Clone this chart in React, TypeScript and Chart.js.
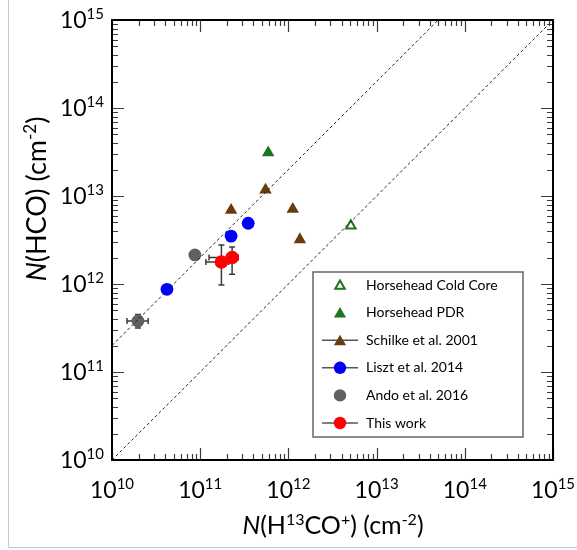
import React, { useEffect, useRef } from "react";
import { Chart, registerables } from "chart.js";
Chart.register(...registerables);

// ---- data ----
const coldCoreX = [5.1e12];
const coldCoreY = [4.6e12];
const pdrX = [5.9e11];
const pdrY = [3.1e13];
const schilkeX = [5.5e11, 2.24e11, 1.12e12, 1.35e12];
const schilkeY = [1.17e13, 6.9e12, 7.1e12, 3.2e12];
const lisztX = [3.5e11, 2.24e11, 4.2e10];
const lisztY = [4.9e12, 3.5e12, 8.7e11];
const andoX = [8.7e10, 1.97e10];
const andoY = [2.14e12, 3.8e11];
const andoXLo = [null, 1.48e10];
const andoXHi = [null, 2.57e10];
const andoYLo = [null, 3.16e11];
const andoYHi = [null, 4.5e11];
const thisX = [1.74e11, 2.3e11];
const thisY = [1.78e12, 2.0e12];
const thisXLo = [1.16e11, 1.26e11];
const thisXHi = [2.1e11, 2.7e11];
const thisYLo = [9.75e11, 1.29e12];
const thisYHi = [2.77e12, 2.63e12];
const unityX = [1e10, 1e15];
const unityY = [1e10, 1e15];
const ratioX = [1e10, 5e13];
const ratioY = [2e11, 1e15];
const decadeExps = [10, 11, 12, 13, 14, 15];
const minorMult = [2, 3, 4, 5, 6, 7, 8, 9];
const legendLabels = [
  "Horsehead Cold Core",
  "Horsehead PDR",
  "Schilke et al. 2001",
  "Liszt et al. 2014",
  "Ando et al. 2016",
  "This work",
];

const GREEN = "#1b771d";
const BROWN = "#6a3b0e";
const BLUE = "#0000ff";
const GRAY = "#606060";
const RED = "#ff0000";
const FONT = "Lato";

const pts = (xs: number[], ys: number[]) => xs.map((x, i) => ({ x, y: ys[i] }));

type Seg = { t: string; it?: boolean; sup?: boolean };

function segsWidth(ctx: CanvasRenderingContext2D, segs: Seg[], size: number, sup: number) {
  let w = 0;
  for (const s of segs) {
    ctx.font = `${s.it ? "italic " : ""}${s.sup ? sup : size}px ${FONT}`;
    w += ctx.measureText(s.t).width;
  }
  return w;
}
function drawSegs(ctx: CanvasRenderingContext2D, segs: Seg[], x: number, y: number, size: number, sup: number, raise: number) {
  ctx.textAlign = "left";
  ctx.textBaseline = "alphabetic";
  for (const s of segs) {
    ctx.font = `${s.it ? "italic " : ""}${s.sup ? sup : size}px ${FONT}`;
    ctx.fillText(s.t, x, s.sup ? y - raise : y);
    x += ctx.measureText(s.t).width;
  }
}

function triPath(ctx: CanvasRenderingContext2D, x: number, y: number, r: number) {
  ctx.beginPath();
  ctx.moveTo(x, y - r);
  ctx.lineTo(x + 0.866 * r, y + 0.5 * r);
  ctx.lineTo(x - 0.866 * r, y + 0.5 * r);
  ctx.closePath();
}

function errBars(ctx: CanvasRenderingContext2D, chart: any, xs: number[], ys: number[], xlo: any[], xhi: any[], ylo: any[], yhi: any[]) {
  const sx = chart.scales.x, sy = chart.scales.y;
  ctx.save();
  ctx.strokeStyle = "#3a3a3a";
  ctx.lineWidth = 1.5;
  const cap = 3;
  xs.forEach((xv, i) => {
    const px = sx.getPixelForValue(xv), py = sy.getPixelForValue(ys[i]);
    if (xlo[i] != null) {
      const a = sx.getPixelForValue(xlo[i]), b = sx.getPixelForValue(xhi[i]);
      ctx.beginPath();
      ctx.moveTo(a, py); ctx.lineTo(b, py);
      ctx.moveTo(a, py - cap); ctx.lineTo(a, py + cap);
      ctx.moveTo(b, py - cap); ctx.lineTo(b, py + cap);
      ctx.stroke();
    }
    if (ylo[i] != null) {
      const a = sy.getPixelForValue(ylo[i]), b = sy.getPixelForValue(yhi[i]);
      ctx.beginPath();
      ctx.moveTo(px, a); ctx.lineTo(px, b);
      ctx.moveTo(px - cap, a); ctx.lineTo(px + cap, a);
      ctx.moveTo(px - cap, b); ctx.lineTo(px + cap, b);
      ctx.stroke();
    }
  });
  ctx.restore();
}

const decorPlugin = {
  id: "decor",
  beforeDatasetDraw(chart: any, args: any) {
    const ctx = chart.ctx;
    if (args.index === 6) errBars(ctx, chart, andoX, andoY, andoXLo, andoXHi, andoYLo, andoYHi);
    if (args.index === 7) errBars(ctx, chart, thisX, thisY, thisXLo, thisXHi, thisYLo, thisYHi);
  },
  afterDraw(chart: any) {
    const ctx: CanvasRenderingContext2D = chart.ctx;
    const ca = chart.chartArea;
    const sx = chart.scales.x, sy = chart.scales.y;
    ctx.save();
    // outer light frame
    ctx.strokeStyle = "#c8c8c8";
    ctx.lineWidth = 1;
    ctx.beginPath();
    ctx.moveTo(8.5, 0); ctx.lineTo(8.5, 547.5); ctx.lineTo(577, 547.5);
    ctx.stroke();

    // ticks
    ctx.strokeStyle = "#3c3c3c";
    ctx.lineWidth = 1.2;
    ctx.beginPath();
    const tickAt = (v: number, len: number) => {
      const px = Math.round(sx.getPixelForValue(v)) + 0.5;
      const py = Math.round(sy.getPixelForValue(v)) + 0.5;
      ctx.moveTo(px, ca.bottom); ctx.lineTo(px, ca.bottom - len);
      ctx.moveTo(px, ca.top); ctx.lineTo(px, ca.top + len);
      ctx.moveTo(ca.left, py); ctx.lineTo(ca.left + len, py);
      ctx.moveTo(ca.right, py); ctx.lineTo(ca.right - len, py);
    };
    decadeExps.forEach((e) => {
      tickAt(Math.pow(10, e), 12);
      if (e < 15) minorMult.forEach((m) => tickAt(m * Math.pow(10, e), 6));
    });
    ctx.stroke();

    // frame
    ctx.strokeStyle = "#000";
    ctx.lineWidth = 2;
    ctx.strokeRect(ca.left, ca.top, ca.right - ca.left, ca.bottom - ca.top);

    // tick labels
    ctx.fillStyle = "#000";
    const base = 23, sup = 15, raise = 9;
    decadeExps.forEach((e) => {
      const segs: Seg[] = [{ t: "10" }, { t: String(e), sup: true }];
      const w = segsWidth(ctx, segs, base, sup);
      const px = sx.getPixelForValue(Math.pow(10, e));
      drawSegs(ctx, segs, px - w / 2, 498, base, sup, raise);
      const py = sy.getPixelForValue(Math.pow(10, e));
      drawSegs(ctx, segs, 104 - w, py + 8, base, sup, raise);
    });

    // x title
    const xt: Seg[] = [
      { t: "N", it: true }, { t: "(H" }, { t: "13", sup: true }, { t: "CO" }, { t: "+", sup: true },
      { t: ") (cm" }, { t: "-2", sup: true }, { t: ")" },
    ];
    const xs = 25, xsup = 16;
    const xw = segsWidth(ctx, xt, xs, xsup);
    drawSegs(ctx, xt, 333 - xw / 2, 534, xs, xsup, 9);

    // y title
    const yt: Seg[] = [{ t: "N", it: true }, { t: "(HCO) (cm" }, { t: "-2", sup: true }, { t: ")" }];
    const ys = 27, ysup = 17;
    const yw = segsWidth(ctx, yt, ys, ysup);
    ctx.save();
    ctx.translate(46, 199);
    ctx.rotate(-Math.PI / 2);
    drawSegs(ctx, yt, -yw / 2, 0, ys, ysup, 10);
    ctx.restore();

    // legend
    const L = 313, T = 272, R = 523, B = 437;
    ctx.fillStyle = "#fff";
    ctx.fillRect(L, T, R - L, B - T);
    ctx.strokeStyle = "#666";
    ctx.lineWidth = 1.5;
    ctx.strokeRect(L, T, R - L, B - T);
    const mx = 340;
    legendLabels.forEach((lab, i) => {
      const cy = 285 + i * 27.6;
      if (i === 2 || i === 3 || i === 5) {
        ctx.strokeStyle = "#555";
        ctx.lineWidth = 1.5;
        ctx.beginPath();
        ctx.moveTo(322, cy); ctx.lineTo(358, cy);
        ctx.stroke();
      }
      if (i === 0) {
        triPath(ctx, mx, cy + 1, 5.5);
        ctx.fillStyle = "#fff"; ctx.fill();
        ctx.strokeStyle = GREEN; ctx.lineWidth = 2; ctx.stroke();
      } else if (i === 1 || i === 2) {
        triPath(ctx, mx, cy + 1.5, 7);
        ctx.fillStyle = i === 1 ? GREEN : BROWN; ctx.fill();
      } else {
        ctx.beginPath();
        ctx.arc(mx, cy, 6.2, 0, Math.PI * 2);
        ctx.fillStyle = i === 3 ? BLUE : i === 4 ? GRAY : RED;
        ctx.fill();
      }
      ctx.fillStyle = "#000";
      ctx.font = `14px ${FONT}`;
      ctx.textAlign = "left";
      ctx.textBaseline = "middle";
      ctx.fillText(lab, 366, cy);
    });
    ctx.restore();
  },
};

export default function App() {
  const ref = useRef<HTMLCanvasElement>(null);
  useEffect(() => {
    const lineDs = (xs: number[], ys: number[]) => ({
      data: pts(xs, ys),
      showLine: true,
      borderColor: "#222",
      borderWidth: 1,
      borderDash: [3, 2.5],
      pointRadius: 0,
      fill: false,
    });
    const chart = new Chart(ref.current!, {
      type: "scatter",
      data: {
        datasets: [
          lineDs(unityX, unityY) as any,
          lineDs(ratioX, ratioY) as any,
          {
            label: legendLabels[0], data: pts(coldCoreX, coldCoreY), pointStyle: "triangle",
            pointRadius: 5.5, backgroundColor: "#fff", borderColor: GREEN, borderWidth: 2,
          },
          {
            label: legendLabels[1], data: pts(pdrX, pdrY), pointStyle: "triangle",
            pointRadius: 7.2, backgroundColor: GREEN, borderColor: GREEN, borderWidth: 0,
          },
          {
            label: legendLabels[2], data: pts(schilkeX, schilkeY), pointStyle: "triangle",
            pointRadius: 7.2, backgroundColor: BROWN, borderColor: BROWN, borderWidth: 0,
          },
          {
            label: legendLabels[3], data: pts(lisztX, lisztY), pointStyle: "circle",
            pointRadius: 6.4, backgroundColor: BLUE, borderColor: BLUE, borderWidth: 0,
          },
          {
            label: legendLabels[4], data: pts(andoX, andoY), pointStyle: "circle",
            pointRadius: 6.4, backgroundColor: GRAY, borderColor: GRAY, borderWidth: 0,
          },
          {
            label: legendLabels[5], data: pts(thisX, thisY), pointStyle: "circle",
            pointRadius: 6.8, backgroundColor: RED, borderColor: RED, borderWidth: 0,
          },
        ],
      },
      options: {
        responsive: false,
        animation: false,
        devicePixelRatio: 1,
        layout: { padding: { left: 112, top: 20, right: 24, bottom: 90 } },
        plugins: { legend: { display: false }, tooltip: { enabled: false } },
        scales: {
          x: { type: "logarithmic", min: 1e10, max: 1e15, display: false },
          y: { type: "logarithmic", min: 1e10, max: 1e15, display: false },
        },
      },
      plugins: [decorPlugin],
    });
    return () => chart.destroy();
  }, []);
  return (
    <div style={{ position: "fixed", left: 0, top: 0, width: 577, height: 550, background: "#fff" }}>
      <canvas ref={ref} width={577} height={550} style={{ display: "block", width: 577, height: 550 }} />
    </div>
  );
}
